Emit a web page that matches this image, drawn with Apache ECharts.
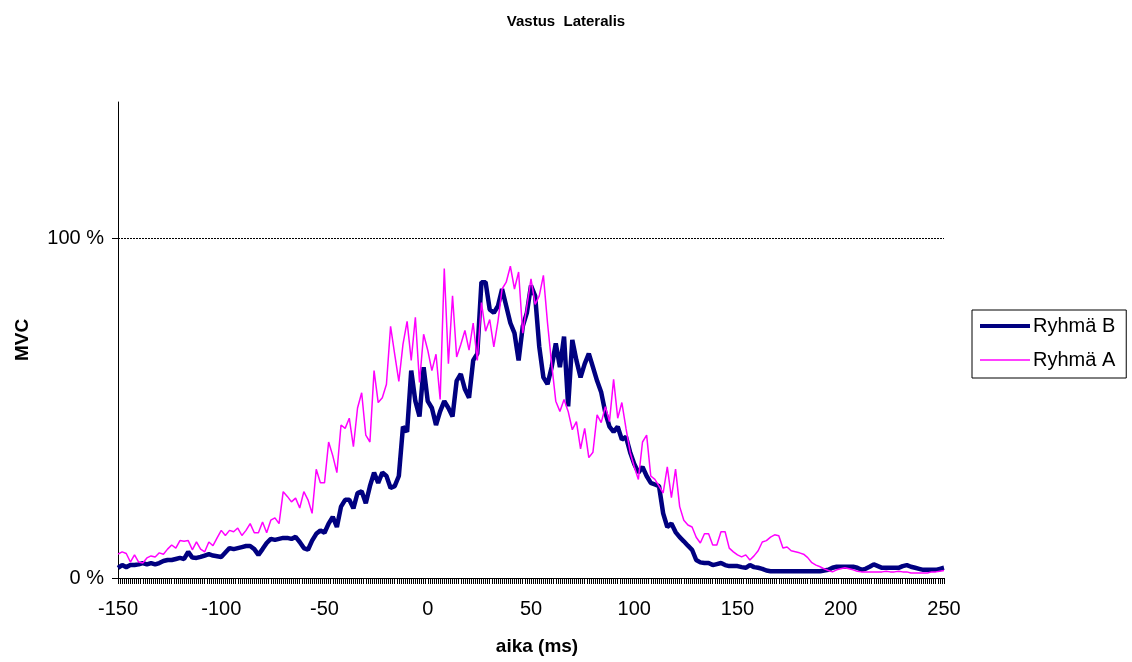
<!DOCTYPE html>
<html>
<head>
<meta charset="utf-8">
<title>Vastus Lateralis</title>
<script src="https://cdn.jsdelivr.net/npm/echarts@6/dist/echarts.min.js"></script>
<style>
  html, body { margin: 0; padding: 0; background: #ffffff; }
  #chart { width: 1132px; height: 662px; }
</style>
</head>
<body>
<div id="chart"></div>
<script>
// EMG amplitude (% of MVC), sampled every 2 ms from -150 ms to 250 ms
const timeStart = -150;
const timeStep = 2;

const groupB = [
  3.0, 3.8, 3.2, 3.8, 3.8,      4.0, 4.4, 4.0, 4.4, 4.0,
  4.4, 5.0, 5.3, 5.3, 5.6,      5.9, 5.6, 7.7, 6.0, 5.9,
  6.2, 6.6, 7.0, 6.6, 6.4,      6.2, 7.5, 8.8, 8.5, 8.8,
  9.1, 9.4, 9.4, 8.5, 6.8,      8.5, 10.3, 11.5, 11.2, 11.5,
  11.8, 11.8, 11.5, 12.1, 10.6, 8.8, 8.3, 11.0, 13.0, 14.0,
  13.3, 16.0, 18.0, 15.0, 21.0, 23.0, 23.0, 20.5, 25.0, 25.5,
  22.0, 27.0, 31.0, 28.0, 31.0, 30.0, 26.5, 27.0, 30.0, 44.5,
  43.0, 61.0, 52.0, 47.5, 62.0, 52.0, 50.0, 45.0, 49.0, 52.0,
  50.0, 47.5, 58.0, 60.0, 55.5, 53.0, 64.0, 66.0, 87.0, 87.0,
  79.0, 78.0, 80.0, 85.0, 80.0, 75.0, 72.0, 64.0, 74.0, 78.0,
  86.0, 83.0, 68.0, 59.0, 57.0, 62.0, 69.0, 62.0, 71.0, 50.5,
  70.0, 64.0, 59.0, 63.0, 66.0, 62.0, 58.0, 54.6, 48.6, 44.5,
  43.0, 44.5, 40.7, 41.5, 37.0, 33.5, 31.0, 32.7, 30.0, 28.0,
  27.5, 27.0, 19.0, 15.0, 16.0, 13.5, 12.0, 10.8, 9.5, 8.3,
  5.3, 4.6, 4.4, 4.4, 3.8,      4.1, 4.4, 3.8, 3.5, 3.5,
  3.5, 3.2, 3.0, 3.8, 3.2,      3.0, 2.7, 2.2, 2.0, 2.0,
  2.0, 2.0, 2.0, 2.0, 2.0,      2.0, 2.0, 2.0, 2.0, 2.0,
  2.0, 2.2, 2.4, 3.0, 3.3,      3.3, 3.3, 3.3, 3.3, 3.0,
  2.4, 2.7, 3.3, 4.0, 3.5,      3.0, 3.0, 3.0, 3.0, 3.0,
  3.5, 3.8, 3.3, 3.0, 2.7,      2.4, 2.4, 2.4, 2.4, 2.7,
  3.0
];

const groupA = [
  7.0, 7.7, 7.2, 4.7, 6.8,      4.7, 4.4, 5.9, 6.5, 6.2,
  7.4, 7.0, 8.5, 9.7, 8.8,      11.0, 10.8, 11.0, 8.3, 10.6,
  8.5, 7.7, 10.6, 9.5, 11.8,    14.0, 12.5, 14.0, 13.6, 14.7,
  12.5, 14.0, 16.0, 13.3, 13.3, 16.5, 13.3, 17.0, 17.7, 16.0,
  25.4, 24.0, 22.4, 23.5, 20.6, 25.4, 23.0, 19.0, 32.0, 28.0,
  28.0, 40.0, 36.0, 31.0, 45.0, 44.0, 47.0, 38.6, 50.0, 54.5,
  42.0, 40.0, 61.0, 51.6, 53.0, 57.0, 74.0, 65.8, 57.8, 68.7,
  75.5, 64.0, 76.7, 57.5, 71.7, 67.0, 61.0, 65.8, 52.5, 91.0,
  63.0, 83.0, 65.0, 68.7, 72.8, 67.0, 75.0, 64.0, 81.0, 72.6,
  76.0, 68.0, 75.5, 85.0, 87.0, 91.7, 85.0, 90.0, 72.0, 80.0,
  88.0, 80.5, 83.0, 89.0, 75.0, 63.0, 52.0, 49.0, 52.5, 49.0,
  43.6, 46.0, 38.0, 44.0, 35.4, 37.0, 48.0, 45.7, 50.4, 46.0,
  58.4, 47.0, 51.6, 44.0, 37.0, 32.7, 29.0, 40.0, 42.0, 30.0,
  29.0, 27.0, 25.0, 32.7, 23.6, 32.0, 21.0, 17.0, 15.6, 15.0,
  12.0, 10.3, 13.0, 13.0, 9.7,  9.7, 13.6, 13.6, 8.8, 7.7,
  6.8, 6.2, 6.8, 5.3, 6.5,      8.0, 10.6, 11.0, 12.0, 12.7,
  12.4, 8.8, 9.1, 8.0, 7.7,     7.4, 7.0, 6.0, 4.5, 3.8,
  3.3, 2.7, 2.2, 1.8, 2.4,      2.7, 3.0, 2.7, 2.4, 2.0,
  1.8, 1.8, 1.8, 1.8, 1.8,      1.8, 2.0, 1.8, 1.8, 2.0,
  1.8, 1.8, 1.5, 1.5, 1.5,      1.5, 1.5, 1.8, 1.8, 2.0,
  2.2
];

const seriesNames = ['Ryhmä B', 'Ryhmä A'];
const xTickLabels = ['-150', '-100', '-50', '0', '50', '100', '150', '200', '250'];
const yTickLabels = ['0 %', '100 %'];

function toPairs(values) {
  return values.map((v, i) => [timeStart + i * timeStep, v]);
}

const FONT = '"Liberation Sans", Arial, sans-serif';
const chart = echarts.init(document.getElementById('chart'), null, { renderer: 'canvas' });

chart.setOption({
  animation: false,
  backgroundColor: '#ffffff',
  title: {
    text: 'Vastus  Lateralis',
    left: 'center',
    top: 9,
    textStyle: { fontFamily: FONT, fontSize: 15, fontWeight: 'bold', color: '#000' }
  },
  legend: {
    orient: 'vertical',
    left: 972,
    top: 310,
    padding: [6, 11, 8, 8],
    itemGap: 14,
    itemWidth: 50,
    itemHeight: 14,
    borderColor: '#000',
    borderWidth: 1,
    data: [
      { name: seriesNames[0], icon: 'path://M0,0H50V4H0Z' },
      { name: seriesNames[1], icon: 'path://M0,0H50V1.6H0Z' }
    ],
    textStyle: { fontFamily: FONT, fontSize: 20, lineHeight: 20, color: '#000', padding: [0, 0, 0, -2] }
  },
  grid: { left: 118, right: 188, top: 102, bottom: 84, containLabel: false },
  xAxis: {
    type: 'value',
    min: -150,
    max: 250,
    interval: 50,
    name: 'aika (ms)',
    nameLocation: 'middle',
    nameGap: 59,
    nameTextStyle: { fontFamily: FONT, fontSize: 19, fontWeight: 'bold', color: '#000', padding: [0, 0, 0, 12] },
    axisLine: { show: true, onZero: false, lineStyle: { color: '#000', width: 1 } },
    axisTick: { show: true, length: 6, lineStyle: { color: '#000', width: 1 } },
    minorTick: { show: true, splitNumber: 50, length: 6, lineStyle: { color: '#000', width: 1 } },
    axisLabel: {
      fontFamily: FONT, fontSize: 20, color: '#000', margin: 21,
      formatter: (v) => xTickLabels[Math.round((v - -150) / 50)]
    },
    splitLine: { show: false }
  },
  yAxis: {
    type: 'value',
    min: 0,
    max: 140,
    interval: 100,
    name: 'MVC',
    nameLocation: 'middle',
    nameRotate: 90,
    nameGap: 86,
    nameTextStyle: { fontFamily: FONT, fontSize: 19, fontWeight: 'bold', color: '#000' },
    axisLine: { show: true, onZero: false, lineStyle: { color: '#000', width: 1 } },
    axisTick: { show: true, length: 6, lineStyle: { color: '#000', width: 1 } },
    axisLabel: {
      fontFamily: FONT, fontSize: 20, color: '#000', margin: 14,
      showMaxLabel: false,
      formatter: (v) => (v % 100 === 0 ? yTickLabels[v / 100] : '')
    },
    splitLine: { show: false }
  },
  series: [
    {
      name: seriesNames[0],
      type: 'line',
      data: toPairs(groupB),
      symbol: 'none',
      lineStyle: { color: '#000080', width: 4.5 },
      itemStyle: { color: '#000080' },
      z: 2,
      markLine: {
        silent: true,
        symbol: ['none', 'none'],
        label: { show: false },
        lineStyle: { color: '#000', type: [2, 1], width: 1 },
        data: [{ yAxis: 100 }]
      }
    },
    {
      name: seriesNames[1],
      type: 'line',
      data: toPairs(groupA),
      symbol: 'none',
      lineStyle: { color: '#ff00ff', width: 1.5 },
      itemStyle: { color: '#ff00ff' },
      z: 3
    }
  ]
});
</script>
</body>
</html>
